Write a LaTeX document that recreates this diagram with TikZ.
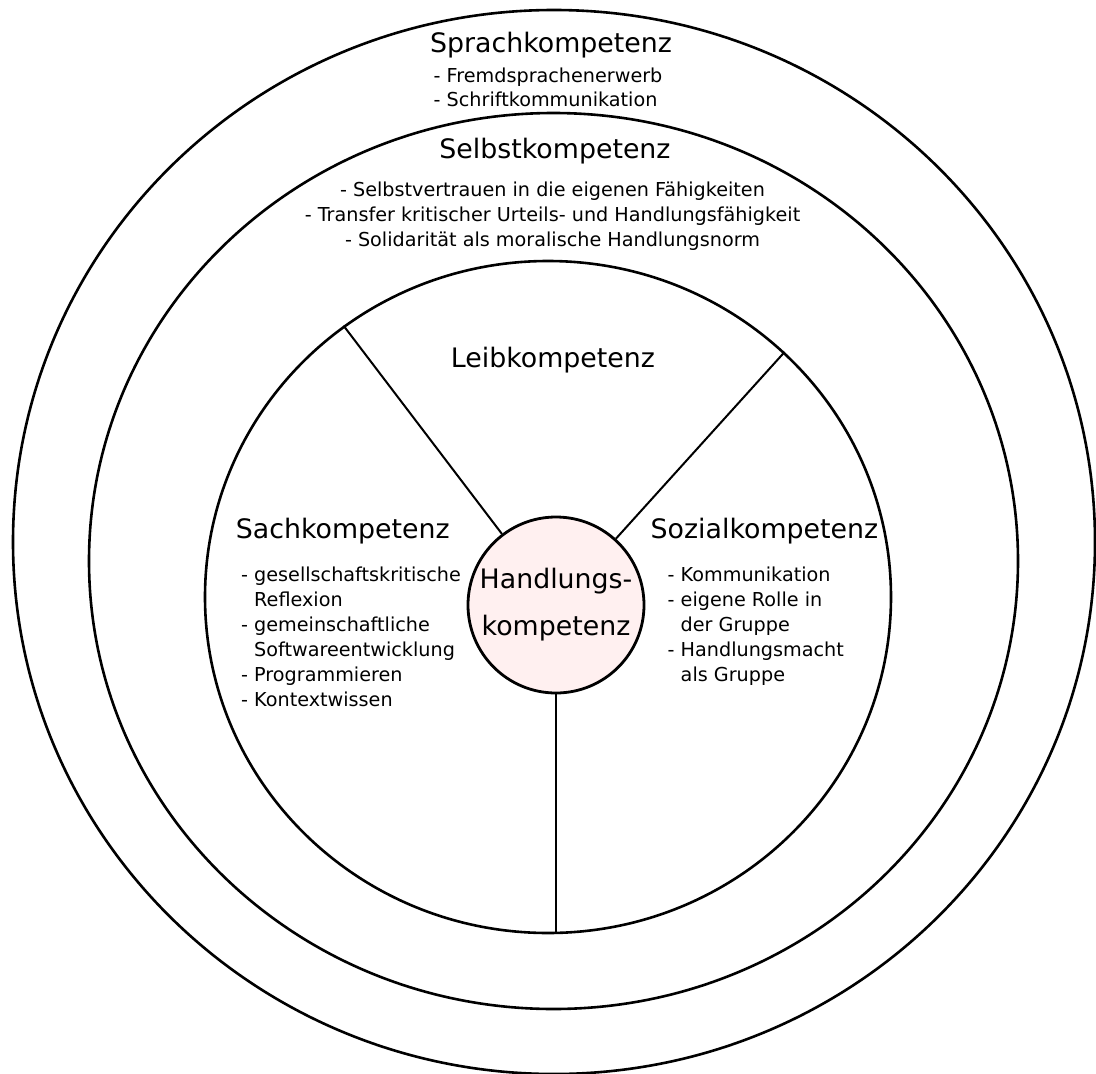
\documentclass[tikz,border=0pt]{standalone}
\usepackage{fontspec}
\setmainfont{DejaVu Sans}
\usetikzlibrary{shapes.geometric}
\definecolor{corefill}{RGB}{255,240,240}
\begin{document}
\begin{tikzpicture}[x=1pt,y=-1pt,
  ring/.style={draw, line width=2.6pt, ellipse, inner sep=0pt},
  spoke/.style={draw, line width=2pt},
  head/.style={inner sep=0pt, anchor=base, font=\fontsize{26.8}{32}\selectfont},
  items/.style={inner sep=0pt, font=\fontsize{19.2}{25}\selectfont},
  itemsnarrow/.style={inner sep=0pt, font=\fontsize{19.2}{24}\selectfont},
]
\useasboundingbox (0,0) rectangle (1096,1074);

% nested competence rings
\node[ring, minimum width=1082pt, minimum height=1064pt] (sprach) at (554,542) {};
\node[ring, minimum width=929pt, minimum height=896pt] (selbst) at (553.5,561) {};
\node[ring, minimum width=686pt, minimum height=672pt] (inner) at (548,597) {};

% core
\node[circle, draw, line width=2.8pt, fill=corefill, minimum size=176pt,
      inner sep=0pt, align=center, font=\fontsize{26.8}{47}\selectfont]
      (hk) at (556,605) {Handlungs-\\kompetenz};

% spokes dividing the inner ring
\draw[spoke] (hk) -- (inner.127.7);
\draw[spoke] (hk) -- (inner.46.6);
\draw[spoke] (hk) -- (hk.south |- inner.south);

% outer ring
\node[head] (sprachT) at (551,52.5) {Sprachkompetenz};
\node[itemsnarrow, anchor=base west] (sprachL) at (433.5,82)
  {\begin{tabular}[t]{@{}l@{}}- Fremdsprachenerwerb\\- Schriftkommunikation\end{tabular}};

% middle ring
\node[head] (selbstT) at (555,158) {Selbstkompetenz};
\node[items, anchor=base] (selbstL) at (552.5,196)
  {\begin{tabular}[t]{@{}c@{}}- Selbstvertrauen in die eigenen Fähigkeiten\\
   - Transfer kritischer Urteils- und Handlungsfähigkeit\\
   - Solidarität als moralische Handlungsnorm\end{tabular}};

% inner ring sectors
\node[head] (leibT) at (553,367) {Leibkompetenz};

\node[head, anchor=base west] (sachT) at (235.7,538) {Sachkompetenz};
\node[items, anchor=base west] (sachL) at (241,581)
  {\begin{tabular}[t]{@{}l@{}l@{}}
   -~ & gesellschaftskritische\\
      & Reflexion\\
   -~ & gemeinschaftliche\\
      & Softwareentwicklung\\
   -~ & Programmieren\\
   -~ & Kontextwissen
   \end{tabular}};

\node[head, anchor=base west] (sozT) at (650.5,538) {Sozialkompetenz};
\node[items, anchor=base west] (sozL) at (667.5,581)
  {\begin{tabular}[t]{@{}l@{}l@{}}
   -~ & Kommunikation\\
   -~ & eigene Rolle in\\
      & der Gruppe\\
   -~ & Handlungsmacht\\
      & als Gruppe
   \end{tabular}};
\end{tikzpicture}
\end{document}
